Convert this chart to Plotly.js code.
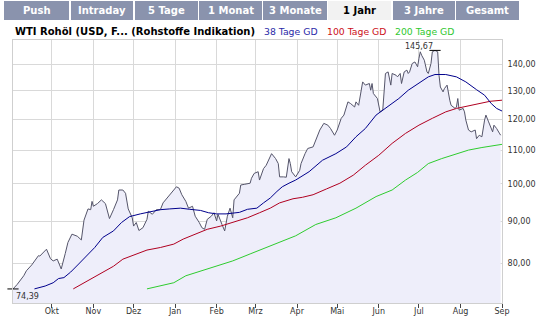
<!DOCTYPE html>
<html>
<head>
<meta charset="utf-8">
<script src="https://cdn.plot.ly/plotly-3.0.1.min.js"></script>
<style>
html,body{margin:0;padding:0;background:#fff;}
#chart{width:556px;height:331px;}
</style>
</head>
<body>
<div id="chart"></div>
<script>
// ---------- DATA ----------
const chartTitle = 'WTI Rohöl (USD, F... (Rohstoffe Indikation)';
const seriesNames = ['38 Tage GD', '100 Tage GD', '200 Tage GD'];
const tabLabels = ['Push', 'Intraday', '5 Tage', '1 Monat', '3 Monate', '1 Jahr', '3 Jahre', 'Gesamt'];
const activeTab = '1 Jahr';

const priceDates = [
 '2007-09-02','2007-09-05','2007-09-10','2007-09-12','2007-09-16','2007-09-19','2007-09-21','2007-09-22','2007-09-25','2007-09-27',
 '2007-09-30','2007-10-02','2007-10-05','2007-10-07','2007-10-08','2007-10-11','2007-10-13','2007-10-16','2007-10-20','2007-10-23',
 '2007-10-25','2007-10-28','2007-10-30','2007-10-31','2007-11-01','2007-11-04','2007-11-07','2007-11-10','2007-11-13','2007-11-16',
 '2007-11-19','2007-11-20','2007-11-23','2007-11-25','2007-11-27','2007-11-30','2007-12-01','2007-12-03','2007-12-05','2007-12-08',
 '2007-12-11','2007-12-12','2007-12-15','2007-12-18','2007-12-21','2007-12-23','2007-12-26','2007-12-30','2008-01-02','2008-01-04',
 '2008-01-06','2008-01-09','2008-01-11','2008-01-14','2008-01-16','2008-01-19','2008-01-21','2008-01-23','2008-01-25','2008-01-28',
 '2008-01-30','2008-02-01','2008-02-02','2008-02-05','2008-02-07','2008-02-09','2008-02-11','2008-02-13','2008-02-14','2008-02-18',
 '2008-02-19','2008-02-22','2008-02-26','2008-02-27','2008-02-29','2008-03-03','2008-03-04','2008-03-07','2008-03-09','2008-03-13',
 '2008-03-16','2008-03-18','2008-03-19','2008-03-22','2008-03-24','2008-03-26','2008-03-27','2008-03-28','2008-03-31','2008-04-03',
 '2008-04-04','2008-04-07','2008-04-09','2008-04-13','2008-04-15','2008-04-18','2008-04-21','2008-04-24','2008-04-26','2008-04-29',
 '2008-05-01','2008-05-04','2008-05-06','2008-05-09','2008-05-11','2008-05-14','2008-05-15','2008-05-17','2008-05-20','2008-05-22',
 '2008-05-25','2008-05-26','2008-05-27','2008-05-28','2008-05-31','2008-06-02','2008-06-04','2008-06-06','2008-06-08','2008-06-10',
 '2008-06-11','2008-06-14','2008-06-15','2008-06-17','2008-06-18','2008-06-20','2008-06-22','2008-06-23','2008-06-24','2008-06-26',
 '2008-06-28','2008-06-30','2008-07-01','2008-07-02','2008-07-03','2008-07-05','2008-07-07','2008-07-08','2008-07-10','2008-07-11',
 '2008-07-13','2008-07-15','2008-07-16','2008-07-17','2008-07-19','2008-07-20','2008-07-22','2008-07-23','2008-07-24','2008-07-25',
 '2008-07-28','2008-07-29','2008-07-30','2008-07-31','2008-08-03','2008-08-04','2008-08-05','2008-08-07','2008-08-09','2008-08-12',
 '2008-08-13','2008-08-15','2008-08-17','2008-08-19','2008-08-20','2008-08-22','2008-08-24','2008-08-25','2008-08-26','2008-08-28',
 '2008-08-30','2008-08-31'
];
const priceValues = [
 74.39, 75.3, 77.2, 78.3, 79.6, 80.9, 81.7, 81.6, 82.5, 83.2,
 81.0, 80.5, 80.9, 79.6, 78.7, 82.2, 84.8, 86.8, 86.3, 85.4,
 90.3, 93.2, 93.0, 95.2, 93.9, 94.6, 95.6, 94.6, 90.7, 93.0,
 95.6, 98.3, 98.3, 97.4, 93.2, 90.9, 88.8, 89.7, 87.7, 88.4,
 90.5, 92.6, 91.8, 93.0, 93.0, 94.8, 96.1, 97.9, 99.2, 98.8,
 97.0, 95.2, 93.4, 93.9, 91.3, 89.7, 88.4, 88.0, 90.5, 91.3,
 92.2, 90.1, 91.8, 89.2, 87.6, 91.3, 93.4, 90.9, 95.6, 97.4,
 99.7, 99.9, 100.2, 101.6, 103.0, 103.5, 101.1, 104.4, 105.4, 108.9,
 107.4, 105.9, 102.0, 102.0, 101.9, 107.4, 105.9, 103.5, 102.0, 103.9,
 105.9, 108.9, 110.5, 111.0, 113.1, 116.4, 118.6, 118.0, 116.9, 114.7,
 116.4, 120.3, 121.4, 126.0, 125.4, 124.2, 126.0, 124.8, 133.3, 132.1,
 132.7, 130.2, 132.7, 129.0, 127.2, 122.5, 123.1, 136.5, 137.1, 132.1,
 136.5, 135.8, 135.2, 136.5, 132.7, 137.1, 137.8, 136.5, 137.1, 140.4,
 141.0, 139.1, 142.4, 145.1, 143.7, 141.7, 137.1, 136.5, 140.4, 145.1,
 145.67, 145.1, 135.8, 131.4, 129.6, 130.8, 132.1, 128.4, 126.6, 124.8,
 123.7, 124.2, 127.2, 123.1, 123.7, 122.5, 119.7, 116.4, 115.8, 116.4,
 113.6, 114.7, 114.2, 119.7, 121.4, 119.1, 116.9, 115.8, 118.0, 116.9,
 115.4, 114.7
];

const ma38Dates = ['2007-09-18','2007-09-26','2007-10-02','2007-10-06','2007-10-10','2007-10-15','2007-10-21','2007-10-27','2007-11-02','2007-11-08',
 '2007-11-16','2007-11-22','2007-11-28','2007-12-06','2007-12-13','2007-12-21','2007-12-28','2008-01-05','2008-01-12','2008-01-20',
 '2008-01-26','2008-02-01','2008-02-08','2008-02-13','2008-02-18','2008-02-24','2008-03-02','2008-03-07','2008-03-12','2008-03-17',
 '2008-03-21','2008-03-26','2008-03-31','2008-04-10','2008-04-20','2008-04-30','2008-05-08','2008-05-15','2008-05-22','2008-05-30',
 '2008-06-06','2008-06-16','2008-06-23','2008-07-01','2008-07-08','2008-07-13','2008-07-21','2008-07-29','2008-08-05','2008-08-13',
 '2008-08-19','2008-08-24','2008-08-28','2008-09-01'];
const ma38Values = [74.4, 75.0, 75.7, 76.6, 76.8, 78.0, 79.8, 81.7, 83.6, 86.0,
 87.6, 89.7, 91.2, 91.9, 92.4, 93.0, 93.2, 93.4, 93.1, 92.8,
 92.2, 91.9, 91.9, 92.2, 92.3, 93.1, 93.4, 94.8, 96.1, 97.9,
 99.2, 100.2, 101.1, 103.5, 106.9, 108.9, 111.0, 114.2, 116.9, 121.4,
 123.7, 127.2, 130.2, 132.9, 135.2, 136.1, 136.1, 135.2, 133.3, 130.4,
 128.4, 125.4, 123.7, 122.8];

const ma100Dates = ['2007-10-17','2007-10-25','2007-11-01','2007-11-08','2007-11-16','2007-11-23','2007-12-01','2007-12-11','2007-12-21','2007-12-31',
 '2008-01-07','2008-01-15','2008-01-25','2008-02-04','2008-02-14','2008-02-24','2008-03-04','2008-03-12','2008-03-19','2008-03-29',
 '2008-04-05','2008-04-13','2008-04-23','2008-05-03','2008-05-13','2008-05-22','2008-06-01','2008-06-11','2008-06-21','2008-07-01',
 '2008-07-11','2008-07-21','2008-07-29','2008-08-05','2008-08-15','2008-08-23','2008-09-01'];
const ma100Values = [74.4, 75.7, 76.8, 77.9, 79.3, 80.9, 81.9, 83.0, 83.6, 84.4,
 85.6, 86.6, 88.0, 88.8, 89.8, 90.9, 92.2, 93.4, 94.8, 95.9,
 96.3, 97.0, 98.6, 100.2, 102.5, 105.4, 108.4, 112.1, 115.3, 118.0,
 120.3, 122.5, 123.7, 124.4, 125.4, 126.2, 126.6];

const ma200Dates = ['2007-12-11','2007-12-21','2007-12-31','2008-01-09','2008-01-20','2008-02-01','2008-02-13','2008-02-26','2008-03-09','2008-03-19',
 '2008-03-31','2008-04-15','2008-04-30','2008-05-15','2008-05-30','2008-06-11','2008-06-21','2008-06-30','2008-07-08','2008-07-18',
 '2008-07-29','2008-08-07','2008-08-17','2008-09-01'];
const ma200Values = [74.4, 75.1, 75.7, 77.2, 78.2, 79.3, 80.5, 82.1, 83.6, 84.8,
 86.4, 89.2, 90.9, 93.4, 96.5, 98.3, 101.1, 103.3, 105.9, 107.4,
 108.9, 110.0, 110.8, 111.8];

const monthTicks = ['2007-10-01','2007-11-01','2007-12-01','2008-01-01','2008-02-01','2008-03-01','2008-04-01','2008-05-01','2008-06-01','2008-07-01','2008-08-01','2008-09-01'];
const monthLabels = ['Okt','Nov','Dez','Jan','Feb','Mrz','Apr','Mai','Jun','Jul','Aug','Sep'];
const yTicks = [80, 90, 100, 110, 120, 130, 140, 150];
const yLabels = ['80,00','90,00','100,00','110,00','120,00','130,00','140,00',''];

// ---------- LAYOUT HELPERS ----------
const W = 556, H = 331;
const M = {l: 13, r: 54, t: 40, b: 28};
const PW = W - M.l - M.r, PH = H - M.t - M.b;
const px = x => (x - M.l) / PW;
const py = y => (H - M.b - y) / PH;
const fmt = v => v.toFixed(2).replace('.', ',');

// extremes
let iMax = 0, iMin = 0;
priceValues.forEach((v, i) => { if (v > priceValues[iMax]) iMax = i; if (v < priceValues[iMin]) iMin = i; });

const FONT = 'DejaVu Sans, Verdana, sans-serif';
const colors = {price: '#55556a', ma38: '#00008c', ma100: '#b00020', ma200: '#2ecc2e', fill: 'rgba(238,238,250,1)'};

const traces = [
  {x: priceDates, y: priceValues, type: 'scatter', mode: 'lines', fill: 'tozeroy', fillcolor: colors.fill,
   line: {color: colors.price, width: 1}, hoverinfo: 'skip'},
  {x: ma200Dates, y: ma200Values, type: 'scatter', mode: 'lines', line: {color: colors.ma200, width: 1}, hoverinfo: 'skip'},
  {x: ma100Dates, y: ma100Values, type: 'scatter', mode: 'lines', line: {color: colors.ma100, width: 1}, hoverinfo: 'skip'},
  {x: ma38Dates, y: ma38Values, type: 'scatter', mode: 'lines', line: {color: colors.ma38, width: 1}, hoverinfo: 'skip'},
  {x: [priceDates[iMax], priceDates[iMin]], y: [priceValues[iMax], priceValues[iMin]], type: 'scatter', mode: 'markers',
   marker: {symbol: 'line-ew', size: 8, line: {color: '#000', width: 1}}, cliponaxis: false, hoverinfo: 'skip'}
];

const shapes = [];
const annotations = [];

// tabs
const tabEdges = [[4,68],[71,132],[135,197],[199,261],[263,326],[328,390],[393,454],[456,518]];
tabLabels.forEach((t, i) => {
  const [a, b] = tabEdges[i];
  const active = t === activeTab;
  shapes.push({type: 'rect', xref: 'paper', yref: 'paper', x0: px(a), x1: px(b + 1), y0: py(20), y1: py(1),
    fillcolor: active ? '#f2f2f2' : '#8a93ad', line: {width: 0}, layer: 'above'});
  annotations.push({xref: 'paper', yref: 'paper', x: px((a + b + 1) / 2), y: py(10.5), xanchor: 'center', yanchor: 'middle',
    text: '<b>' + t + '</b>', showarrow: false, font: {family: FONT, size: 10, color: active ? '#000' : '#fff'}});
});

// title + legend texts
annotations.push({xref: 'paper', yref: 'paper', x: px(13), y: py(31.5), xanchor: 'left', yanchor: 'middle',
  text: '<b>' + chartTitle + '</b>', showarrow: false, font: {family: FONT, size: 10, color: '#000'}});
const legX = [262, 325, 393];
const legC = ['#2a2aa8', '#cc1020', '#30c830'];
seriesNames.forEach((n, i) => {
  annotations.push({xref: 'paper', yref: 'paper', x: px(legX[i]), y: py(31.5), xanchor: 'left', yanchor: 'middle',
    text: n, showarrow: false, font: {family: FONT, size: 9.3, color: legC[i]}});
});

// extreme labels
annotations.push({x: priceDates[iMax], y: Math.log10(priceValues[iMax]), xanchor: 'right', yanchor: 'bottom', xshift: 0, yshift: -3,
  text: fmt(priceValues[iMax]), showarrow: false, font: {family: FONT, size: 8, color: '#333'}});
annotations.push({x: priceDates[iMin], y: Math.log10(priceValues[iMin]), xanchor: 'left', yanchor: 'top', xshift: 1, yshift: -1,
  text: fmt(priceValues[iMin]), showarrow: false, font: {family: FONT, size: 8, color: '#333'}});

const layout = {
  width: W, height: H, margin: M, paper_bgcolor: '#fff', plot_bgcolor: '#fff', showlegend: false,
  font: {family: FONT, size: 8, color: '#333'},
  xaxis: {type: 'date', range: ['2007-09-02', '2008-09-01'], tickvals: monthTicks, ticktext: monthLabels,
    ticks: 'outside', ticklen: 4, tickcolor: '#444', tickwidth: 1, showgrid: true, gridcolor: '#d9d9d9',
    showline: true, linecolor: '#cfcfcf', mirror: true, zeroline: false, ticklabelstandoff: -4,
    tickfont: {family: FONT, size: 8, color: '#333'}, fixedrange: true},
  yaxis: {type: 'log', range: [Math.log10(71.5), Math.log10(150)], side: 'right', tickvals: yTicks, ticktext: yLabels,
    ticks: '', showgrid: true, gridcolor: '#d9d9d9', showline: true, linecolor: '#cfcfcf', mirror: true, zeroline: false,
    ticklabelstandoff: 3, tickfont: {family: FONT, size: 8, color: '#333'}, fixedrange: true},
  shapes: shapes, annotations: annotations
};

Plotly.newPlot('chart', traces, layout, {displayModeBar: false, staticPlot: true});
</script>
</body>
</html>
